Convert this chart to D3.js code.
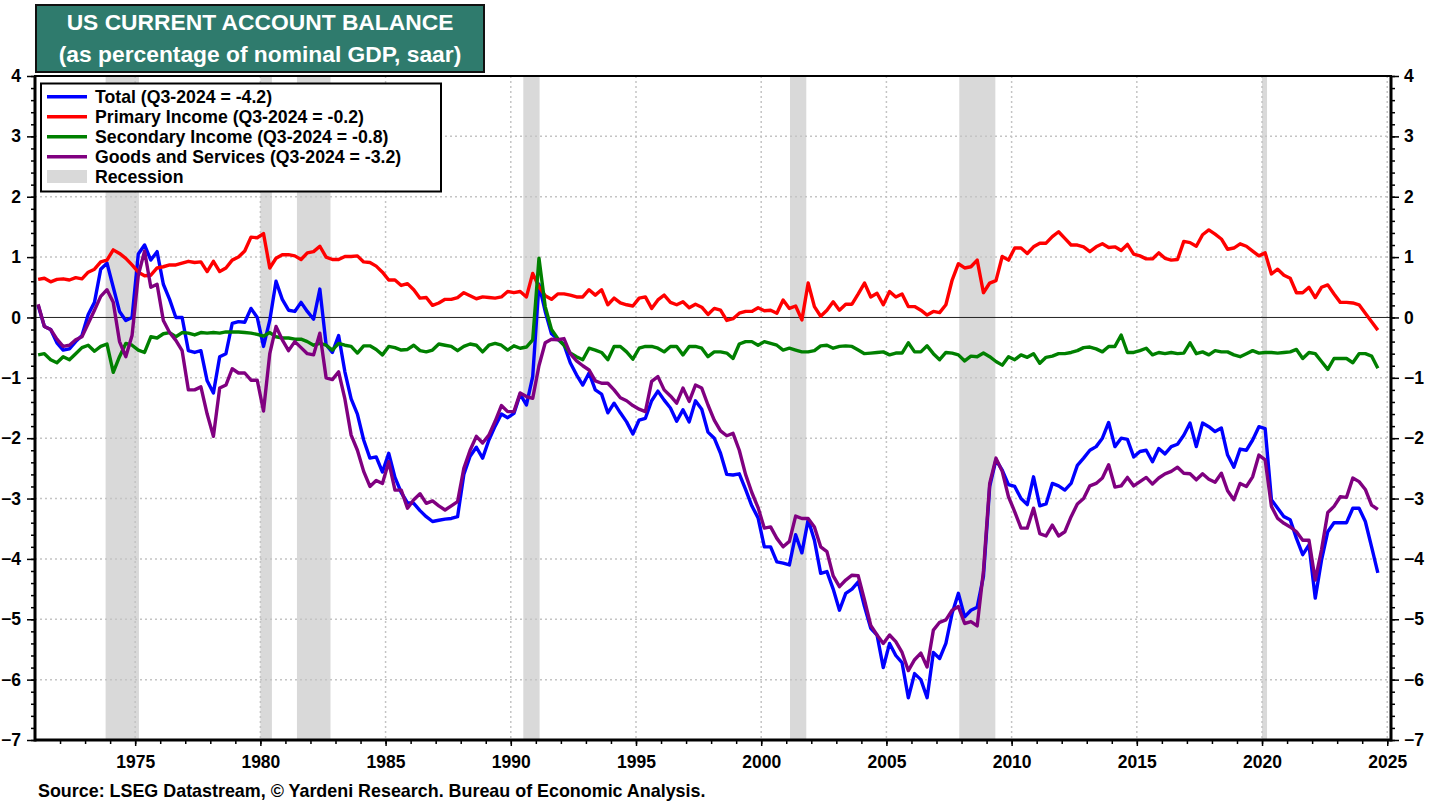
<!DOCTYPE html>
<html><head><meta charset="utf-8">
<script src="https://cdn.jsdelivr.net/npm/d3@7"></script>
<style>
body{margin:0;background:#fff;}
svg{display:block;font-family:"Liberation Sans",Arial,Helvetica,sans-serif;}
</style></head><body>
<svg id="chart" width="1438" height="804"></svg>
<script>
// ---------------- DATA ----------------
const titleLines = ["US CURRENT ACCOUNT BALANCE", "(as percentage of nominal GDP, saar)"];
const sourceText = "Source: LSEG Datastream, \u00A9 Yardeni Research. Bureau of Economic Analysis.";
const firstYear = 1971; // quarterly data, 1971Q1 .. 2024Q3

const total = [
 0.2,-0.15,-0.2,-0.42, -0.54,-0.52,-0.4,-0.3, 0.05,0.25,0.8,0.9, 0.5,0.1,-0.05,0.0,
 1.05,1.2,0.95,1.09, 0.55,0.3,0.0,0.0, -0.55,-0.58,-0.55,-1.05, -1.25,-0.65,-0.6,-0.1,
 -0.07,-0.08,0.15,0.0, -0.48,-0.05,0.6,0.3, 0.12,0.1,0.25,0.1, -0.03,0.47,-0.45,-0.58,
 -0.3,-0.9,-1.35,-1.6, -2.03,-2.33,-2.31,-2.56, -2.25,-2.65,-2.9,-3.07, -3.08,-3.2,-3.3,-3.38,
 -3.36,-3.34,-3.33,-3.3, -2.6,-2.3,-2.15,-2.33, -2.03,-1.8,-1.6,-1.66, -1.59,-1.27,-1.45,-0.98,
 0.55,0.1,-0.27,-0.36, -0.45,-0.75,-0.95,-1.12, -0.92,-1.2,-1.27,-1.58, -1.42,-1.58,-1.73,-1.93,
 -1.7,-1.67,-1.38,-1.22, -1.37,-1.5,-1.72,-1.53, -1.73,-1.38,-1.52,-1.9, -2.0,-2.25,-2.6,-2.61,
 -2.59,-2.85,-3.12,-3.32, -3.8,-3.8,-4.05,-4.07, -4.1,-3.6,-3.9,-3.35, -3.69,-4.24,-4.21,-4.5,
 -4.85,-4.57,-4.5,-4.38, -4.79,-5.15,-5.26,-5.8, -5.4,-5.6,-5.72,-6.3, -5.9,-6.0,-6.3,-5.55,
 -5.65,-5.4,-4.9,-4.57, -4.96,-4.85,-4.8,-4.29, -2.8,-2.36,-2.53,-2.77, -2.8,-3.0,-3.1,-2.64,
 -3.12,-3.09,-2.75,-2.79, -2.86,-2.75,-2.45,-2.33, -2.2,-2.14,-2.0,-1.74, -2.14,-2.0,-2.02,-2.31,
 -2.22,-2.2,-2.39,-2.17, -2.26,-2.14,-2.1,-1.95, -1.75,-2.14,-1.75,-1.81, -1.89,-1.83,-2.28,-2.48,
 -2.18,-2.2,-2.03,-1.81, -1.84,-3.02,-3.16,-3.3, -3.35,-3.66,-3.93,-3.77, -4.65,-4.02,-3.55,-3.4,
 -3.4,-3.4,-3.16,-3.16, -3.38,-3.8,-4.23
];

const primaryIncome = [
 0.63,0.65,0.59,0.63, 0.64,0.62,0.66,0.64, 0.75,0.8,0.92,0.95, 1.12,1.06,0.98,0.87,
 0.75,0.69,0.7,0.82, 0.84,0.87,0.87,0.9, 0.93,0.91,0.92,0.76, 0.93,0.76,0.82,0.95,
 1.0,1.1,1.33,1.32, 1.39,0.82,0.98,1.04, 1.04,1.02,0.96,1.07, 1.09,1.18,1.0,0.96,
 0.96,1.01,1.01,1.02, 0.92,0.91,0.85,0.75, 0.62,0.62,0.53,0.56, 0.46,0.32,0.33,0.2,
 0.24,0.3,0.3,0.33, 0.41,0.36,0.31,0.34, 0.33,0.32,0.34,0.43, 0.41,0.43,0.34,0.73,
 0.51,0.36,0.3,0.39, 0.39,0.37,0.34,0.34, 0.46,0.37,0.46,0.21, 0.32,0.24,0.21,0.19,
 0.32,0.34,0.15,0.29, 0.37,0.25,0.21,0.26, 0.16,0.22,0.17,0.05, 0.15,0.12,-0.05,-0.02,
 0.07,0.1,0.1,0.16, 0.11,0.12,0.07,0.29, 0.15,0.19,-0.04,0.57, 0.18,0.02,0.12,0.26,
 0.12,0.22,0.22,0.39, 0.57,0.34,0.4,0.21, 0.43,0.34,0.39,0.18, 0.18,0.12,0.04,0.1,
 0.08,0.21,0.62,0.89, 0.82,0.84,0.95,0.41, 0.57,0.61,1.01,0.95, 1.15,1.15,1.06,1.17,
 1.23,1.23,1.34,1.42, 1.31,1.2,1.2,1.17, 1.09,1.17,1.22,1.16, 1.17,1.11,1.21,1.05,
 1.02,0.97,0.97,1.07, 0.98,0.95,0.96,1.26, 1.24,1.18,1.37,1.45, 1.38,1.3,1.13,1.15,
 1.22,1.18,1.1,1.02, 1.07,0.72,0.8,0.7, 0.65,0.41,0.41,0.5, 0.33,0.5,0.54,0.39,
 0.25,0.25,0.24,0.21, 0.07,-0.07,-0.21
];

const secondaryIncome = [
 -0.62,-0.6,-0.7,-0.75, -0.65,-0.7,-0.6,-0.5, -0.46,-0.56,-0.48,-0.44, -0.91,-0.65,-0.43,-0.46,
 -0.54,-0.58,-0.32,-0.34, -0.27,-0.25,-0.32,-0.25, -0.26,-0.29,-0.25,-0.26, -0.25,-0.26,-0.24,-0.24,
 -0.24,-0.25,-0.26,-0.28, -0.31,-0.25,-0.32,-0.34, -0.34,-0.36,-0.36,-0.4, -0.46,-0.43,-0.46,-0.54,
 -0.43,-0.46,-0.48,-0.59, -0.47,-0.47,-0.53,-0.62, -0.48,-0.5,-0.54,-0.53, -0.46,-0.55,-0.57,-0.54,
 -0.44,-0.46,-0.48,-0.55, -0.48,-0.44,-0.46,-0.57, -0.46,-0.43,-0.46,-0.54, -0.47,-0.51,-0.49,-0.37,
 0.98,0.18,-0.2,-0.35, -0.46,-0.59,-0.65,-0.7, -0.51,-0.54,-0.58,-0.7, -0.48,-0.48,-0.57,-0.69,
 -0.51,-0.48,-0.48,-0.51, -0.57,-0.48,-0.48,-0.62, -0.48,-0.48,-0.51,-0.65, -0.57,-0.57,-0.59,-0.68,
 -0.44,-0.4,-0.4,-0.46, -0.4,-0.43,-0.46,-0.54, -0.51,-0.54,-0.57,-0.57, -0.55,-0.47,-0.46,-0.51,
 -0.48,-0.47,-0.48,-0.54, -0.6,-0.59,-0.58,-0.57, -0.62,-0.59,-0.59,-0.42, -0.57,-0.57,-0.47,-0.6,
 -0.7,-0.58,-0.59,-0.62, -0.72,-0.64,-0.65,-0.59, -0.65,-0.73,-0.79,-0.65, -0.7,-0.62,-0.66,-0.6,
 -0.76,-0.66,-0.64,-0.6, -0.6,-0.58,-0.55,-0.5, -0.49,-0.52,-0.57,-0.48, -0.48,-0.29,-0.58,-0.58,
 -0.55,-0.51,-0.62,-0.58, -0.6,-0.58,-0.6,-0.59, -0.42,-0.6,-0.57,-0.62, -0.55,-0.57,-0.57,-0.62,
 -0.65,-0.6,-0.55,-0.59, -0.58,-0.58,-0.59,-0.58, -0.57,-0.53,-0.68,-0.58, -0.6,-0.73,-0.86,-0.68,
 -0.68,-0.68,-0.75,-0.6, -0.6,-0.64,-0.84
];

const goodsServices = [
 0.22,-0.15,-0.2,-0.36, -0.48,-0.46,-0.37,-0.32, -0.1,0.12,0.35,0.46, 0.25,-0.4,-0.65,-0.3,
 0.7,1.1,0.5,0.55, -0.05,-0.25,-0.38,-0.55, -1.2,-1.2,-1.15,-1.6, -1.97,-1.17,-1.12,-0.85,
 -0.92,-0.92,-1.04,-1.04, -1.55,-0.6,-0.15,-0.37, -0.55,-0.4,-0.5,-0.6, -0.62,-0.26,-1.0,-1.03,
 -0.9,-1.35,-1.95,-2.2, -2.55,-2.8,-2.7,-2.75, -2.39,-2.86,-2.86,-3.16, -3.02,-2.92,-3.08,-3.04,
 -3.12,-3.19,-3.12,-3.05, -2.5,-2.2,-1.97,-2.08, -1.95,-1.72,-1.46,-1.56, -1.56,-1.25,-1.31,-1.34,
 -0.8,-0.42,-0.36,-0.37, -0.35,-0.6,-0.72,-0.8, -0.87,-1.05,-1.09,-1.09, -1.2,-1.33,-1.38,-1.46,
 -1.52,-1.56,-1.06,-0.98, -1.2,-1.3,-1.42,-1.17, -1.39,-1.12,-1.17,-1.45, -1.7,-1.88,-1.96,-1.92,
 -2.2,-2.6,-2.9,-3.15, -3.49,-3.47,-3.66,-3.8, -3.71,-3.29,-3.33,-3.33, -3.47,-3.8,-3.88,-4.28,
 -4.46,-4.35,-4.27,-4.28, -4.68,-5.1,-5.26,-5.4, -5.26,-5.37,-5.55,-5.85, -5.67,-5.56,-5.79,-5.18,
 -5.05,-5.01,-4.85,-4.79, -5.07,-5.04,-5.11,-4.2, -2.75,-2.33,-2.55,-2.97, -3.22,-3.49,-3.49,-3.16,
 -3.58,-3.62,-3.44,-3.62, -3.55,-3.3,-3.09,-3.0, -2.79,-2.75,-2.66,-2.44, -2.81,-2.79,-2.65,-2.79,
 -2.72,-2.65,-2.76,-2.66, -2.59,-2.55,-2.48,-2.58, -2.59,-2.69,-2.59,-2.68, -2.73,-2.58,-2.87,-3.02,
 -2.75,-2.8,-2.64,-2.28, -2.36,-3.13,-3.33,-3.41, -3.47,-3.55,-3.69,-3.69, -4.35,-3.85,-3.23,-3.13,
 -2.97,-2.98,-2.66,-2.72, -2.85,-3.11,-3.18
];

const recessions = [[1973.82,1975.15],[1980.0,1980.46],[1981.46,1982.8],[1990.5,1991.15],
                    [2001.15,2001.8],[2007.91,2009.35],[2020.0,2020.2]];
const yTicks = [-7,-6,-5,-4,-3,-2,-1,0,1,2,3,4];
const xTickYears = [1975,1980,1985,1990,1995,2000,2005,2010,2015,2020,2025];
const seriesNames = ["Total (Q3-2024 = -4.2)","Primary Income (Q3-2024 = -0.2)",
  "Secondary Income (Q3-2024 = -0.8)","Goods and Services (Q3-2024 = -3.2)"];
const recessionLabel = "Recession";

// ---------------- CHART ----------------
const colors = ["#0000ff","#ff0000","#008000","#800080"];
const svg = d3.select("#chart");
const L = 35, R = 1391, T = 76, B = 740;
const x = d3.scaleLinear().domain([1971, 2025.15]).range([L, R]);
const y = d3.scaleLinear().domain([-7, 4]).range([B, T]);
const dateOf = i => firstYear + Math.floor(i/4) + ((i%4) + 0.5)/4;

// recession bands
svg.append("g").selectAll("rect").data(recessions).join("rect")
  .attr("x", d => x(d[0])).attr("width", d => x(d[1]) - x(d[0]))
  .attr("y", T).attr("height", B - T).attr("fill", "#d9d9d9");

// gridlines
const grid = svg.append("g").attr("stroke", "#c4c4c4").attr("stroke-width", 1.5).attr("stroke-dasharray", "2,3");
grid.selectAll("line.h").data(yTicks.filter(v => v !== 0 && v !== -7 && v !== 4)).join("line")
  .attr("x1", L).attr("x2", R).attr("y1", d => y(d)).attr("y2", d => y(d));
grid.selectAll("line.v").data(xTickYears).join("line")
  .attr("y1", T).attr("y2", B).attr("x1", d => x(d)).attr("x2", d => x(d));

// zero line
svg.append("line").attr("x1", L).attr("x2", R).attr("y1", y(0)).attr("y2", y(0))
  .attr("stroke", "#222").attr("stroke-width", 1);

// series
const allSeries = [total, primaryIncome, secondaryIncome, goodsServices];
const line = d3.line().x((d, i) => x(dateOf(i))).y(d => y(d));
svg.append("defs").append("clipPath").attr("id", "clip")
  .append("rect").attr("x", L).attr("y", T).attr("width", R - L).attr("height", B - T);
const sg = svg.append("g").attr("clip-path", "url(#clip)");
allSeries.forEach((s, k) => {
  sg.append("path").datum(s).attr("d", line).attr("fill", "none")
    .attr("stroke", colors[k]).attr("stroke-width", 3.4).attr("stroke-linejoin", "round");
});

// axes
function styleAxis(g, labels) {
  g.select(".domain").remove();
  g.selectAll(".tick line").attr("stroke", "#000").attr("stroke-width", 1.5);
  g.selectAll(".tick text").attr("fill", "#000").style("font-size", "17.5px").style("font-weight", "bold")
    .style("font-family", "'Liberation Sans',Arial,sans-serif");
  if (!labels) g.selectAll(".tick text").remove();
}
const minorY = d3.range(-70, 41, 2).map(v => v / 10);
svg.append("g").attr("transform", `translate(${L},0)`)
  .call(d3.axisLeft(y).tickValues(minorY).tickSize(4).tickFormat("")).call(g => styleAxis(g, false));
svg.append("g").attr("transform", `translate(${L},0)`)
  .call(d3.axisLeft(y).tickValues(yTicks).tickSize(8).tickPadding(6).tickFormat(d3.format("d")))
  .call(g => styleAxis(g, true));
svg.append("g").attr("transform", `translate(${R},0)`)
  .call(d3.axisRight(y).tickValues(minorY).tickSize(4).tickFormat("")).call(g => styleAxis(g, false));
svg.append("g").attr("transform", `translate(${R},0)`)
  .call(d3.axisRight(y).tickValues(yTicks).tickSize(8).tickPadding(5).tickFormat(d3.format("d")))
  .call(g => styleAxis(g, true));
svg.append("g").attr("transform", `translate(0,${B})`)
  .call(d3.axisBottom(x).tickValues(d3.range(1972, 2026)).tickSize(4).tickFormat("")).call(g => styleAxis(g, false));
svg.append("g").attr("transform", `translate(0,${B})`)
  .call(d3.axisBottom(x).tickValues(xTickYears).tickSize(6).tickPadding(10).tickFormat(d3.format("d")))
  .call(g => styleAxis(g, true));

// frame
svg.append("rect").attr("x", L).attr("y", T).attr("width", R - L).attr("height", B - T)
  .attr("fill", "none").attr("stroke", "#000").attr("stroke-width", 2);
svg.append("line").attr("x1", L).attr("x2", L).attr("y1", T).attr("y2", B + 1.5).attr("stroke", "#000").attr("stroke-width", 3);
svg.append("line").attr("x1", R).attr("x2", R).attr("y1", T).attr("y2", B + 1.5).attr("stroke", "#000").attr("stroke-width", 3);
svg.append("line").attr("x1", L).attr("x2", R).attr("y1", B).attr("y2", B).attr("stroke", "#000").attr("stroke-width", 3);

// title box
svg.append("rect").attr("x", 36).attr("y", 5).attr("width", 448).attr("height", 67)
  .attr("fill", "#2f7b6d").attr("stroke", "#111").attr("stroke-width", 2);
svg.selectAll("text.title").data(titleLines).join("text").attr("class", "title")
  .attr("x", 260).attr("y", (d, i) => [29.5, 61.5][i]).attr("text-anchor", "middle")
  .attr("fill", "#fff").style("font-size", "22.8px").style("font-weight", "bold").text(d => d);

// legend
const lg = svg.append("g");
lg.append("rect").attr("x", 41).attr("y", 83.5).attr("width", 400).attr("height", 108)
  .attr("fill", "#fff").attr("stroke", "#000").attr("stroke-width", 2);
seriesNames.forEach((n, k) => {
  const cy = 96.7 + k * 20;
  lg.append("line").attr("x1", 47).attr("x2", 87).attr("y1", cy).attr("y2", cy)
    .attr("stroke", colors[k]).attr("stroke-width", 3.5);
  lg.append("text").attr("x", 95).attr("y", cy + 5.8).style("font-size", "17.7px")
    .style("font-weight", "bold").attr("fill", "#000").text(n);
});
lg.append("rect").attr("x", 47).attr("y", 170).attr("width", 40).attr("height", 13).attr("fill", "#d9d9d9");
lg.append("text").attr("x", 95).attr("y", 176.7 + 5.8).style("font-size", "17.7px")
  .style("font-weight", "bold").attr("fill", "#000").text(recessionLabel);

// source
svg.append("text").attr("x", 38).attr("y", 797).style("font-size", "17.9px").style("font-weight", "bold")
  .attr("fill", "#000").text(sourceText);
</script>
</body></html>
